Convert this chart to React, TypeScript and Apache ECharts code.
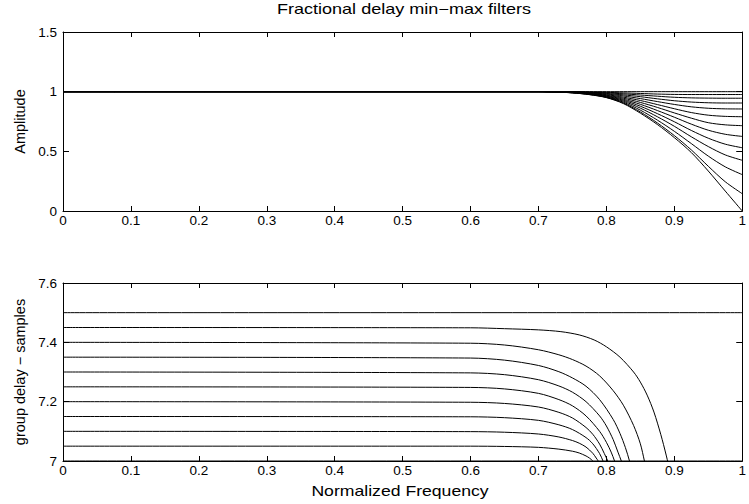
import React, { useEffect, useRef } from 'react';
import * as echarts from 'echarts';

// ---- texts ----
const TITLE = 'Fractional delay min−max filters';
const X_NAME = 'Normalized Frequency';
const AMP_NAME = 'Amplitude';
const GD_NAME = 'group delay − samples';

// ---- top panel: amplitude responses (one array per filter) ----
const AMP_FREQ = [0, 0.6, 0.65, 0.7, 0.725, 0.75, 0.775, 0.8, 0.825, 0.85, 0.875, 0.9, 0.925, 0.95, 0.975, 1.0];
const amp01 = [1, 1, 1, 1, 1, 1, 1, 1, 1, 1, 1, 1, 1, 1, 1, 1];
const amp02 = [1, 1, 1, 1, 1, 0.999, 0.997, 0.994, 0.99, 0.985, 0.98, 0.977, 0.976, 0.976, 0.976, 0.976];
const amp03 = [1, 1, 1, 1, 1, 0.998, 0.995, 0.99, 0.982, 0.972, 0.962, 0.953, 0.948, 0.946, 0.945, 0.945];
const amp04 = [1, 1, 1, 1, 0.999, 0.998, 0.993, 0.985, 0.973, 0.958, 0.94, 0.924, 0.913, 0.907, 0.905, 0.905];
const amp05 = [1, 1, 1, 1, 0.999, 0.997, 0.991, 0.98, 0.964, 0.942, 0.917, 0.893, 0.873, 0.861, 0.856, 0.855];
const amp06 = [1, 1, 1, 1, 0.999, 0.996, 0.988, 0.975, 0.954, 0.926, 0.892, 0.857, 0.825, 0.803, 0.793, 0.79];
const amp07 = [1, 1, 1, 1, 0.998, 0.995, 0.986, 0.97, 0.945, 0.91, 0.868, 0.822, 0.778, 0.74, 0.722, 0.715];
const amp08 = [1, 1, 1, 1, 0.998, 0.994, 0.984, 0.966, 0.936, 0.894, 0.842, 0.786, 0.728, 0.677, 0.643, 0.625];
const amp09 = [1, 1, 1, 1, 0.998, 0.993, 0.982, 0.962, 0.928, 0.878, 0.816, 0.748, 0.675, 0.61, 0.56, 0.53];
const amp10 = [1, 1, 1, 1, 0.998, 0.992, 0.98, 0.958, 0.92, 0.862, 0.79, 0.71, 0.622, 0.54, 0.47, 0.425];
const amp11 = [1, 1, 1, 1, 0.997, 0.991, 0.978, 0.955, 0.912, 0.845, 0.762, 0.668, 0.565, 0.46, 0.37, 0.305];
const amp12 = [1, 1, 1, 1, 0.997, 0.99, 0.976, 0.952, 0.905, 0.83, 0.738, 0.632, 0.512, 0.375, 0.245, 0.145];
const amp13 = [1, 1, 1, 1, 0.997, 0.99, 0.975, 0.95, 0.9, 0.82, 0.725, 0.615, 0.49, 0.335, 0.167, 0];
const AMP_CURVES = [amp01, amp02, amp03, amp04, amp05, amp06, amp07, amp08, amp09, amp10, amp11, amp12, amp13];

// ---- bottom panel: group delays, [frequency, samples] ----
const gd700: [number, number][] = [[0, 7], [1, 7]];
const gd705: [number, number][] = [[0, 7.05], [0.6, 7.05], [0.65, 7.049], [0.7, 7.046], [0.73, 7.04], [0.75, 7.033], [0.76, 7.027], [0.77, 7.017], [0.775, 7.01], [0.78, 7.0], [0.783, 6.99]];
const gd710: [number, number][] = [[0, 7.1], [0.6, 7.099], [0.65, 7.097], [0.7, 7.091], [0.73, 7.081], [0.75, 7.069], [0.76, 7.06], [0.77, 7.047], [0.78, 7.026], [0.785, 7.01], [0.788, 7.0], [0.791, 6.985]];
const gd715: [number, number][] = [[0, 7.15], [0.6, 7.149], [0.65, 7.146], [0.7, 7.137], [0.73, 7.122], [0.75, 7.106], [0.77, 7.079], [0.78, 7.058], [0.79, 7.025], [0.795, 7.0], [0.798, 6.98]];
const gd720: [number, number][] = [[0, 7.2], [0.6, 7.198], [0.65, 7.194], [0.7, 7.182], [0.73, 7.164], [0.75, 7.145], [0.77, 7.113], [0.78, 7.09], [0.79, 7.057], [0.797, 7.025], [0.802, 7.0], [0.805, 6.98]];
const gd725: [number, number][] = [[0, 7.25], [0.6, 7.248], [0.65, 7.243], [0.7, 7.228], [0.73, 7.207], [0.75, 7.186], [0.77, 7.152], [0.79, 7.1], [0.8, 7.063], [0.807, 7.03], [0.812, 7.0], [0.815, 6.98]];
const gd730: [number, number][] = [[0, 7.3], [0.6, 7.297], [0.65, 7.291], [0.7, 7.274], [0.73, 7.253], [0.75, 7.232], [0.77, 7.2], [0.79, 7.152], [0.8, 7.118], [0.81, 7.072], [0.817, 7.03], [0.822, 7.0], [0.825, 6.98]];
const gd735: [number, number][] = [[0, 7.35], [0.6, 7.347], [0.65, 7.34], [0.7, 7.322], [0.73, 7.301], [0.75, 7.28], [0.77, 7.252], [0.79, 7.207], [0.81, 7.14], [0.82, 7.093], [0.828, 7.045], [0.834, 7.0], [0.837, 6.97]];
const gd740: [number, number][] = [[0, 7.4], [0.6, 7.397], [0.65, 7.391], [0.7, 7.375], [0.73, 7.358], [0.75, 7.342], [0.77, 7.32], [0.79, 7.287], [0.81, 7.237], [0.825, 7.188], [0.84, 7.12], [0.85, 7.058], [0.856, 7.0], [0.859, 6.97]];
const gd745: [number, number][] = [[0, 7.45], [0.6, 7.449], [0.65, 7.446], [0.7, 7.442], [0.733, 7.436], [0.76, 7.425], [0.782, 7.408], [0.8, 7.385], [0.82, 7.35], [0.84, 7.3], [0.85, 7.266], [0.86, 7.222], [0.87, 7.165], [0.88, 7.09], [0.888, 7.02], [0.893, 6.97]];
const gd750: [number, number][] = [[0, 7.5], [1, 7.5]];
const GD_CURVES = [gd700, gd705, gd710, gd715, gd720, gd725, gd730, gd735, gd740, gd745, gd750];

// ---- axis ranges / ticks ----
const X_RANGE = [0, 1];
const X_STEP = 0.1;
const AMP_RANGE = [0, 1.5];
const AMP_STEP = 0.5;
const GD_RANGE = [7, 7.6];
const GD_STEP = 0.2;

const FONT = '"Liberation Sans", Arial, Helvetica, sans-serif';
const fmt = (v: number) => String(Math.round(v * 10) / 10);

function xAxesFor(gridIndex: number) {
  const common = {
    type: 'value',
    gridIndex,
    min: X_RANGE[0],
    max: X_RANGE[1],
    interval: X_STEP,
    axisLine: { show: true, onZero: false, lineStyle: { color: '#000', width: 1 } },
    axisTick: { show: true, inside: true, length: 5, lineStyle: { color: '#000', width: 1 } },
    splitLine: { show: false },
  };
  return [
    {
      ...common,
      position: 'bottom',
      axisLabel: { color: '#000', fontSize: 13.5, fontFamily: FONT, margin: 2, formatter: fmt },
    },
    { ...common, position: 'top', axisLabel: { show: false } },
  ];
}

function yAxesFor(gridIndex: number, range: number[], step: number, name: string) {
  const common = {
    type: 'value',
    gridIndex,
    min: range[0],
    max: range[1],
    interval: step,
    axisLine: { show: true, onZero: false, lineStyle: { color: '#000', width: 1 } },
    axisTick: { show: true, inside: true, length: 6, lineStyle: { color: '#000', width: 1 } },
    splitLine: { show: false },
  };
  return [
    {
      ...common,
      position: 'left',
      name,
      nameLocation: 'middle',
      nameGap: 36,
      nameTextStyle: { color: '#000', fontSize: 14.5, fontFamily: FONT },
      axisLabel: { color: '#000', fontSize: 13.5, fontFamily: FONT, margin: 6, formatter: fmt },
    },
    { ...common, position: 'right', axisLabel: { show: false } },
  ];
}

function lineSeries(data: [number, number][], xAxisIndex: number, yAxisIndex: number) {
  return {
    type: 'line',
    xAxisIndex,
    yAxisIndex,
    data,
    showSymbol: false,
    symbol: 'none',
    smooth: 0.3,
    silent: true,
    clip: true,
    lineStyle: { color: '#000', width: 1 },
  };
}

export default function App() {
  const ref = useRef<HTMLDivElement>(null);
  useEffect(() => {
    if (!ref.current) return;
    const chart = echarts.init(ref.current, null, { renderer: 'svg' });
    const ampSeries = AMP_CURVES.map((arr) =>
      lineSeries(AMP_FREQ.map((f, i) => [f, arr[i]] as [number, number]), 0, 0)
    );
    const gdSeries = GD_CURVES.map((pts) => lineSeries(pts, 2, 2));
    chart.setOption({
      animation: false,
      backgroundColor: '#fff',
      grid: [
        { left: 63, top: 32, width: 679.5, height: 179 },
        { left: 63, top: 283, width: 679.5, height: 178 },
      ],
      xAxis: [...xAxesFor(0), ...xAxesFor(1)],
      yAxis: [...yAxesFor(0, AMP_RANGE, AMP_STEP, AMP_NAME), ...yAxesFor(1, GD_RANGE, GD_STEP, GD_NAME)],
      series: [...ampSeries, ...gdSeries],
      graphic: [
        {
          type: 'text',
          x: 404,
          y: 9,
          scaleX: 1.29,
          style: {
            text: TITLE,
            fontSize: 14,
            fontFamily: FONT,
            fill: '#000',
            align: 'center',
            verticalAlign: 'middle',
            textAlign: 'center',
            textVerticalAlign: 'middle',
          },
        },
        {
          type: 'text',
          x: 400,
          y: 491,
          scaleX: 1.26,
          style: {
            text: X_NAME,
            fontSize: 14,
            fontFamily: FONT,
            fill: '#000',
            align: 'center',
            verticalAlign: 'middle',
            textAlign: 'center',
            textVerticalAlign: 'middle',
          },
        },
      ],
    });
    return () => chart.dispose();
  }, []);
  return (
    <div
      ref={ref}
      style={{ position: 'fixed', left: 0, top: 0, width: 749, height: 504, background: '#fff' }}
    />
  );
}
